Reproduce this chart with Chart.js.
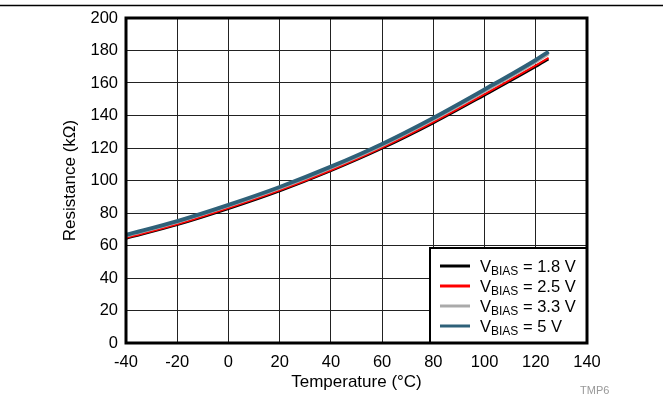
<!DOCTYPE html>
<html>
<head>
<meta charset="utf-8">
<script src="https://cdn.jsdelivr.net/npm/chart.js@4.4.1/dist/chart.umd.min.js"></script>
<style>
  html, body { margin: 0; padding: 0; background: #fff; }
  #wrap { width: 663px; height: 398px; position: relative; }
</style>
</head>
<body>
<div id="wrap"><canvas id="chart"></canvas></div>
<script>
// temperature points (°C)
const temps = [-40, -20, 0, 20, 40, 60, 80, 100, 120, 125];

// resistance (kΩ) per bias voltage
const r18 = [64.2, 72.6, 82.5, 93.4, 105.8, 119.6, 135.2, 152.3, 169.9, 174.6];
const r25 = [64.6, 73.0, 83.0, 93.9, 106.3, 120.2, 135.9, 153.1, 170.8, 175.5];
const r33 = [65.8, 74.3, 84.2, 95.1, 107.6, 121.5, 137.4, 154.8, 172.9, 178.0];
const r50 = [66.5, 75.0, 85.0, 96.0, 108.5, 122.5, 138.5, 156.0, 174.2, 179.3];

const biasLabels = ["1.8 V", "2.5 V", "3.3 V", "5 V"];
const biasColors = ["#000000", "#ff0000", "#aaaaaa", "#2f6179"];

const FONT = "'Liberation Sans', Arial, Helvetica, sans-serif";

function toPoints(values) {
    return temps.map((t, i) => ({ x: t, y: values[i] }));
}

function makeSet(idx, values, width) {
    return {
        label: "VBIAS = " + biasLabels[idx],
        data: toPoints(values),
        borderColor: biasColors[idx],
        borderWidth: width,
        pointRadius: 0,
        fill: false,
        cubicInterpolationMode: "monotone",
        order: 4 - idx // later voltages painted on top
    };
}

// frame, legend box, page rule and figure tag
const decorPlugin = {
    id: "decor",
    afterDraw(chart) {
        const ctx = chart.ctx;
        const a = chart.chartArea;
        ctx.save();

        // top rule across the page
        ctx.strokeStyle = "#000";
        ctx.lineWidth = 1.5;
        ctx.beginPath();
        ctx.moveTo(0, 5.5);
        ctx.lineTo(663, 5.5);
        ctx.stroke();

        // legend box
        const bx = 430, by = 248, bw = a.right - bx, bh = a.bottom - by;
        ctx.fillStyle = "#fff";
        ctx.fillRect(bx, by, bw, bh);
        ctx.lineWidth = 2;
        ctx.strokeStyle = "#000";
        ctx.strokeRect(bx, by, bw, bh);

        for (let i = 0; i < biasLabels.length; i++) {
            const y = 266 + i * 20;
            ctx.strokeStyle = biasColors[i];
            ctx.lineWidth = 3;
            ctx.beginPath();
            ctx.moveTo(440, y);
            ctx.lineTo(470, y);
            ctx.stroke();

            ctx.fillStyle = "#000";
            ctx.textBaseline = "alphabetic";
            ctx.textAlign = "left";
            ctx.font = "16.5px " + FONT;
            let x = 480;
            ctx.fillText("V", x, y + 6);
            x += ctx.measureText("V").width;
            ctx.font = "12px " + FONT;
            ctx.fillText("BIAS", x, y + 9);
            x += ctx.measureText("BIAS").width;
            ctx.font = "16.5px " + FONT;
            ctx.fillText(" = " + biasLabels[i], x, y + 6);
        }

        // plot frame
        ctx.strokeStyle = "#000";
        ctx.lineWidth = 3;
        ctx.strokeRect(a.left, a.top, a.right - a.left, a.bottom - a.top);

        // figure tag
        ctx.fillStyle = "#999";
        ctx.font = "11px " + FONT;
        ctx.textAlign = "left";
        ctx.fillText("TMP6", 580, 394);

        ctx.restore();
    }
};

new Chart(document.getElementById("chart"), {
    type: "line",
    data: {
        datasets: [
            makeSet(0, r18, 2),
            makeSet(1, r25, 2),
            makeSet(2, r33, 3),
            makeSet(3, r50, 4)
        ]
    },
    options: {
        responsive: true,
        maintainAspectRatio: false,
        animation: false,
        layout: { padding: { left: 0, right: 76, top: 18, bottom: 0 } },
        plugins: {
            legend: { display: false },
            tooltip: { enabled: false }
        },
        scales: {
            x: {
                type: "linear",
                min: -40,
                max: 140,
                afterFit(scale) { scale.height = 55; },
                ticks: {
                    stepSize: 20,
                    padding: 10,
                    color: "#000",
                    font: { family: FONT, size: 16.5 }
                },
                grid: { color: "#222", lineWidth: 1, drawTicks: false },
                border: { display: false },
                title: {
                    display: true,
                    text: "Temperature (°C)",
                    color: "#000",
                    font: { family: FONT, size: 17 },
                    padding: { top: 0, bottom: 5 }
                }
            },
            y: {
                type: "linear",
                min: 0,
                max: 200,
                afterFit(scale) { scale.width = 126; },
                ticks: {
                    stepSize: 20,
                    padding: 8,
                    color: "#000",
                    font: { family: FONT, size: 16.5 }
                },
                grid: { color: "#222", lineWidth: 1, drawTicks: false },
                border: { display: false },
                title: {
                    display: true,
                    text: "Resistance (kΩ)",
                    color: "#000",
                    font: { family: FONT, size: 17 },
                    padding: { top: 60, bottom: 0 }
                }
            }
        }
    },
    plugins: [decorPlugin]
});
</script>
</body>
</html>
